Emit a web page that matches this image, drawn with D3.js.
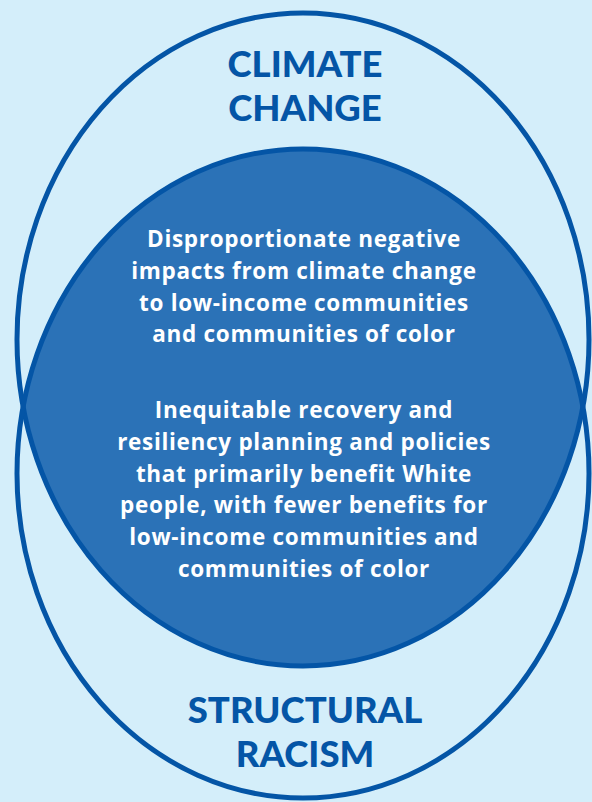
<!DOCTYPE html>
<html>
<head>
<meta charset="utf-8">
<script src="https://cdn.jsdelivr.net/npm/d3@7"></script>
<style>
  html, body { margin: 0; padding: 0; background: #d4eefa; }
  svg { display: block; }
</style>
</head>
<body>
<svg id="chart"></svg>
<script>
// Sets (top and bottom ellipse) and the text inside the overlap
const setNames = ['Climate change', 'Structural racism'];
const setTitles = [['CLIMATE', 'CHANGE'], ['STRUCTURAL', 'RACISM']];
const overlapBlocks = [
  ['Disproportionate negative', 'impacts from climate change', 'to low-income communities', 'and communities of color'],
  ['Inequitable recovery and', 'resiliency planning and policies', 'that primarily benefit White', 'people, with fewer benefits for', 'low-income communities and', 'communities of color']
];

const width = 592, height = 802;
const bg = '#d4eefa', stroke = '#0455a6', fillDark = '#2b72b7', titleColor = '#0455a6';

const svg = d3.select('#chart').attr('width', width).attr('height', height);
svg.append('rect').attr('width', width).attr('height', height).attr('fill', bg);

// layout scales: x in [-1,1] across the ellipse width, y in [0,1] top to bottom of the diagram
const x = d3.scaleLinear().domain([-1, 1]).range([17, 589]);
const y = d3.scaleLinear().domain([0, 1]).range([13, 798]);

// each set is an ellipse spanning part of the vertical extent
const spans = [[0, 0.8318], [0.1732, 1]];
const ellipses = setNames.map((name, i) => ({
  name,
  cx: x(0),
  cy: (y(spans[i][0]) + y(spans[i][1])) / 2,
  rx: (x(1) - x(-1)) / 2,
  ry: (y(spans[i][1]) - y(spans[i][0])) / 2
}));

const defs = svg.append('defs');
defs.append('clipPath').attr('id', 'clip-top')
  .append('ellipse')
  .attr('cx', ellipses[0].cx).attr('cy', ellipses[0].cy)
  .attr('rx', ellipses[0].rx).attr('ry', ellipses[0].ry);

// overlap
svg.append('ellipse')
  .attr('clip-path', 'url(#clip-top)')
  .attr('cx', ellipses[1].cx).attr('cy', ellipses[1].cy)
  .attr('rx', ellipses[1].rx).attr('ry', ellipses[1].ry)
  .attr('fill', fillDark);

// outlines
svg.selectAll('.set')
  .data(ellipses)
  .join('ellipse')
  .attr('class', 'set')
  .attr('cx', d => d.cx).attr('cy', d => d.cy)
  .attr('rx', d => d.rx).attr('ry', d => d.ry)
  .attr('fill', 'none')
  .attr('stroke', stroke)
  .attr('stroke-width', 5);

// titles
const titleBase = [77, 723];
setTitles.forEach((lines, i) => {
  svg.append('text')
    .attr('text-anchor', 'middle')
    .attr('font-family', 'Lato, sans-serif')
    .attr('font-weight', 900)
    .attr('font-size', 36.5)
    .attr('fill', titleColor)
    .selectAll('tspan')
    .data(lines)
    .join('tspan')
    .attr('x', x(0) + 2)
    .attr('y', (d, j) => titleBase[i] + j * 44)
    .text(d => d);
});

// overlap text
const blockBase = [247, 418];
overlapBlocks.forEach((lines, i) => {
  svg.append('text')
    .attr('text-anchor', 'middle')
    .attr('font-family', '"Open Sans", sans-serif')
    .attr('font-weight', 700)
    .attr('font-size', 22.5)
    .attr('letter-spacing', 0.7)
    .attr('fill', '#fff')
    .selectAll('tspan')
    .data(lines)
    .join('tspan')
    .attr('x', x(0) + 1)
    .attr('y', (d, j) => blockBase[i] + j * 31.8)
    .text(d => d);
});
</script>
</body>
</html>
